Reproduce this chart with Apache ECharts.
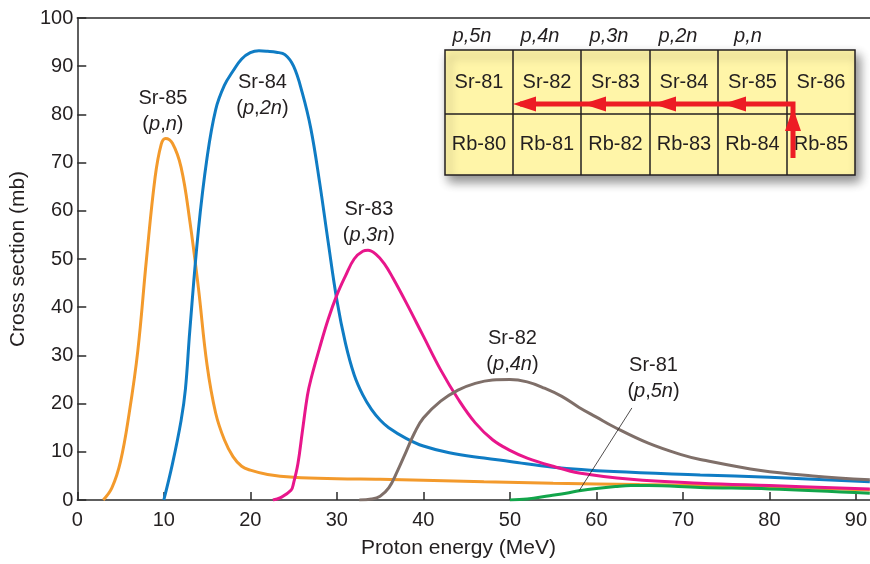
<!DOCTYPE html>
<html>
<head>
<meta charset="utf-8">
<script src="https://cdn.jsdelivr.net/npm/echarts@6/dist/echarts.min.js"></script>
<style>
  html, body { margin: 0; padding: 0; background: #fff; }
  #main { width: 870px; height: 564px; }
</style>
</head>
<body>
<div id="main"></div>
<script>
// cross sections (mb) against proton energy (MeV)
var sr85 = [[3,0],[4,2.5],[5,8],[6,18],[7,31],[8,50],[9,67],[9.7,73.8],[10.2,75],[11,74],[12,69],[13,58],[14,44],[15,28],[16,18],[17,12.5],[18,9],[19,7],[20,6.2],[22,5.3],[25,4.7],[30,4.4],[35,4.3],[40,4.1],[47,3.8],[55,3.5],[65,3.2],[72,3],[80,2.7],[91.6,2.1]];
var sr84 = [[10,0],[11,7.5],[12,16.5],[12.5,23],[13,35],[14,56],[15,71],[16,81],[17,86],[18,89],[19,91.5],[20,92.8],[21,93.2],[22,93.1],[23,92.9],[24,92.4],[25,90],[26,84.5],[27,77],[28,66],[29,53.5],[30,41.5],[31,32.5],[32,26],[33,21.8],[34,18.8],[35,16.6],[36,15],[38,12.8],[40,11.2],[43,9.8],[47,8.7],[50,8],[55,6.8],[62,5.9],[72,5.2],[80,4.7],[91.6,3.8]];
var sr83 = [[22.6,0],[23.5,0.5],[24.7,2],[25,3.5],[25.5,7.5],[26,14],[26.6,21.7],[27,25],[28,31.5],[29,37.5],[30,42.5],[31,46.5],[32,50],[33,51.6],[33.6,51.8],[34.5,51],[35.5,49],[36.5,46],[38,41],[40,34],[42,27],[44,21],[46,16],[48,12.5],[50,10.3],[52,8.7],[55,7],[58,5.6],[64,4.3],[72,3.5],[80,3],[91.6,2.3]];
var sr82 = [[32.6,0],[34,0.2],[35,0.8],[36,2.5],[37,6],[38,10],[39,14],[40,17],[42,20.5],[44,22.8],[46,24.2],[48,24.9],[50,25],[52,24.5],[54,23.2],[56,21.5],[58,19.2],[60,17.2],[62,15.2],[66,11.8],[70,9.3],[72,8.4],[79,6.1],[85,5],[91.6,4.2]];
var sr81 = [[50,0],[52,0.2],[54.6,0.9],[56.5,1.4],[58,1.9],[60,2.4],[62.2,2.8],[64,3],[66,3],[72,2.6],[80,2.3],[91.6,1.4]];
var leader = [[64.1,19.1],[58,1.9]];

var curveNames = ['Sr-85', 'Sr-84', 'Sr-83', 'Sr-82', 'Sr-81'];
var reactions = ['n', '2n', '3n', '4n', '5n'];
var labelPos = [[9.9,80.6],[21.4,83.9],[33.7,57.6],[50.3,30.9],[66.6,25.3]];
var xTicks = [0,10,20,30,40,50,60,70,80,90];

var chartSr = ['Sr-81','Sr-82','Sr-83','Sr-84','Sr-85','Sr-86'];
var chartRb = ['Rb-80','Rb-81','Rb-82','Rb-83','Rb-84','Rb-85'];
var chartHead = ['5n','4n','3n','2n','n'];

var ink = '#231f20';
var font = 'Liberation Sans';
var colors = ['#f39a2c', '#0f7cc4', '#e8168b', '#7f6f69', '#12a54a'];

var mycharts = echarts.init(document.getElementById('main'));

function curve(name, data, color){
  return {
    name: name,
    type: 'line',
    data: data,
    smooth: 0.4,
    symbol: 'none',
    silent: true,
    lineStyle: { color: color, width: 3 },
    z: 3
  };
}

// inset chart of nuclides
var cellX = [445,513,581,650,718,787,855];
var cellY = [50,114,175];
var headX = [472,540,609,678,748];
var inset = [];
inset.push({
  type: 'rect',
  shape: { x: cellX[0], y: cellY[0], width: cellX[6]-cellX[0], height: cellY[2]-cellY[0] },
  style: { fill: '#fff5a8', stroke: ink, lineWidth: 1.5, shadowBlur: 10, shadowOffsetX: 4, shadowOffsetY: 6, shadowColor: 'rgba(0,0,0,0.45)' },
  z: 10
});
for (var i = 1; i < 6; i++) {
  inset.push({ type: 'line', shape: { x1: cellX[i], y1: cellY[0], x2: cellX[i], y2: cellY[2] }, style: { stroke: ink, lineWidth: 1.5 }, z: 11 });
}
inset.push({ type: 'line', shape: { x1: cellX[0], y1: cellY[1], x2: cellX[6], y2: cellY[1] }, style: { stroke: ink, lineWidth: 1.5 }, z: 11 });
for (var j = 0; j < 6; j++) {
  var cx = (cellX[j] + cellX[j+1]) / 2;
  inset.push({ type: 'text', x: cx, y: (cellY[0]+cellY[1])/2, style: { text: chartSr[j], fill: ink, font: '20px ' + font, align: 'center', verticalAlign: 'middle' }, z: 12 });
  inset.push({ type: 'text', x: cx, y: (cellY[1]+cellY[2])/2, style: { text: chartRb[j], fill: ink, font: '20px ' + font, align: 'center', verticalAlign: 'middle' }, z: 12 });
}
for (var k = 0; k < 5; k++) {
  inset.push({ type: 'text', x: headX[k], y: 36, style: { text: 'p,' + chartHead[k], fill: ink, font: 'italic 20px ' + font, align: 'center', verticalAlign: 'middle' }, z: 12 });
}
var red = '#ed1c24';
inset.push({ type: 'polyline', shape: { points: [[520,104],[793,104],[793,158]] }, style: { stroke: red, lineWidth: 5, fill: null }, z: 13 });
[513,583,653,723].forEach(function(tip){
  inset.push({ type: 'polygon', shape: { points: [[tip,104],[tip+23,96.5],[tip+23,111.5]] }, style: { fill: red }, z: 14 });
});
inset.push({ type: 'polygon', shape: { points: [[793,108],[785,131],[801,131]] }, style: { fill: red }, z: 14 });

var options = {
  animation: false,
  backgroundColor: '#fff',
  textStyle: { fontFamily: font, color: ink },
  grid: { left: 72, right: 0, top: 18, bottom: 63 },
  xAxis: [{
    type: 'value',
    min: 0,
    max: 91.6,
    interval: 10,
    name: 'Proton energy (MeV)',
    nameLocation: 'middle',
    nameGap: 38,
    nameTextStyle: { fontSize: 21, color: ink, fontFamily: font, padding: [0, 30, 0, 0] },
    axisLine: { lineStyle: { color: '#2a2a2a', width: 1.5 } },
    axisTick: { inside: true, length: 8, customValues: xTicks, lineStyle: { color: '#2a2a2a', width: 1.5 } },
    axisLabel: { customValues: xTicks, fontSize: 20, color: ink, margin: 10, fontFamily: font },
    splitLine: { show: false }
  }, {
    type: 'value',
    position: 'top',
    min: 0,
    max: 91.6,
    axisLine: { show: true, lineStyle: { color: '#2a2a2a', width: 1.5 } },
    axisTick: { show: false },
    axisLabel: { show: false },
    splitLine: { show: false }
  }],
  yAxis: {
    type: 'value',
    min: 0,
    max: 100,
    interval: 10,
    name: 'Cross section (mb)',
    nameLocation: 'middle',
    nameRotate: 90,
    nameGap: 42,
    nameTextStyle: { fontSize: 21, color: ink, fontFamily: font },
    axisLine: { show: true, lineStyle: { color: '#2a2a2a', width: 1.5 } },
    axisTick: { show: true, inside: true, length: 9, lineStyle: { color: '#2a2a2a', width: 1.5 } },
    axisLabel: { fontSize: 20, color: ink, margin: 4, fontFamily: font },
    splitLine: { show: false }
  },
  series: [
    curve('Sr-85', sr85, colors[0]),
    curve('Sr-84', sr84, colors[1]),
    curve('Sr-83', sr83, colors[2]),
    curve('Sr-82', sr82, colors[3]),
    curve('Sr-81', sr81, colors[4]),
    {
      type: 'line',
      data: leader,
      symbol: 'none',
      silent: true,
      lineStyle: { color: ink, width: 0.8 },
      z: 4
    },
    {
      type: 'scatter',
      silent: true,
      symbolSize: 1,
      itemStyle: { color: 'transparent', opacity: 1 },
      data: labelPos.map(function(p, i){
        return {
          value: p,
          label: {
            show: true,
            position: 'inside',
            formatter: curveNames[i] + '\n({i|p},{i|' + reactions[i] + '})',
            fontSize: 20,
            lineHeight: 26,
            color: ink,
            opacity: 1,
            fontFamily: font,
            align: 'center',
            rich: {
              i: { fontStyle: 'italic', fontSize: 20, lineHeight: 26, color: ink, fontFamily: font }
            }
          }
        };
      }),
      z: 5
    }
  ],
  graphic: inset
};
mycharts.setOption(options);
</script>
</body>
</html>
